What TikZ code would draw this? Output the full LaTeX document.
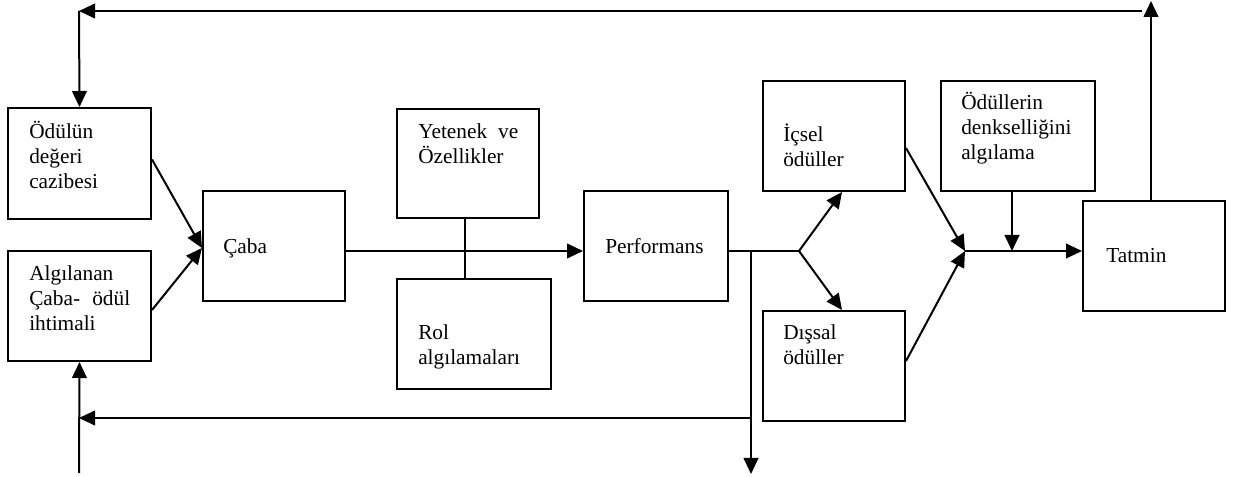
\documentclass[tikz,border=0pt]{standalone}
\usepackage{fontspec}
\setmainfont{Liberation Serif}
\usetikzlibrary{arrows.meta,fit,calc}
\begin{document}
\begin{tikzpicture}[x=0.75pt,y=-0.75pt,
  box/.style={draw=black,line width=1.5pt,inner sep=0pt},
  txt/.style={anchor=base west,align=left,inner sep=0pt,font=\fontsize{16}{18.75}\selectfont},
  conn/.style={line width=1.5pt},
  arr/.style={conn,-{Triangle[length=12pt,width=11pt]}},
  every path/.style={line join=miter}]
\useasboundingbox (0,0) rectangle (1240,477);
% boxes
\node[box,fit={(8,108) (151,219)}] (A) {};
\node[box,fit={(8,251) (151,361)}] (B) {};
\node[box,fit={(203,191) (345,301)}] (C) {};
\node[box,fit={(397,109) (539,218)}] (Y) {};
\node[box,fit={(397,279) (551,389)}] (R) {};
\node[box,fit={(584,191) (728,301)}] (P) {};
\node[box,fit={(763,81) (905,191)}] (I) {};
\node[box,fit={(763,311) (905,421)}] (D) {};
\node[box,fit={(941,81) (1095,191)}] (O) {};
\node[box,fit={(1083,201) (1225,311)}] (T) {};
% texts (anchored at the baseline of the last line)
\node[txt] (tA) at (29,189) {Ödülün\\değeri\\cazibesi};
\node[txt] (tB) at (29,331) {Algılanan\\\hbox to 75.75pt{Çaba-\hfill ödül}\\ihtimali};
\node[txt] (tC) at (223,254) {Çaba};
\node[txt] (tY) at (418,164) {\hbox to 75pt{Yetenek\hfill ve}\\Özellikler};
\node[txt] (tR) at (418,365) {Rol\\algılamaları};
\node[txt] (tP) at (605,254) {Performans};
\node[txt] (tI) at (783,167) {İçsel\\ödüller};
\node[txt] (tD) at (783,365) {Dışsal\\ödüller};
\node[txt] (tO) at (961,160) {Ödüllerin\\denkselliğini\\algılama};
\node[txt] (tT) at (1106,263) {Tatmin};
% junction coordinates
\coordinate (j1) at (751,251);
\coordinate (br) at (799,251);
\coordinate (jn) at (965,251);
\coordinate (jo) at (1012,251);
\coordinate (bl) at (751,418);
\coordinate (bb) at (751,474);
\coordinate (lb) at (79,418);
\coordinate (lbot) at (79,473);
\coordinate (tl) at (79,11);
\coordinate (tr) at (1142,11);
\coordinate (tt) at (1151,1);
% connectors
\draw[arr] ($(A.east)+(0,-4)$) -- ($(C.west)+(0,2)$);
\draw[arr] ($(B.east)+(0,4)$) -- ($(C.west)+(0,2)$);
\draw[arr] (C.east |- j1) -- (P.west |- j1);
\draw[conn] (465,218) -- (465,279);
\draw[conn] (P.east |- j1) -- (br);
\draw[arr] (br) -- ($(I.south)+(8,0)$);
\draw[arr] (br) -- ($(D.north)+(8,0)$);
\draw[arr] (j1) -- (bb);
\draw[arr] (bl) -- (lb);
\draw[arr] (lbot) -- (B.south);
\draw[arr] ($(I.east)+(0,12)$) -- (jn);
\draw[arr] ($(D.east)+(0,-5)$) -- (jn);
\draw[arr] (jn) -- (T.west |- jn);
\draw[arr] (O.south -| jo) -- (jo);
\draw[arr] (T.north -| tt) -- (tt);
\draw[arr] (tr) -- (tl);
\draw[arr] (tl) -- (A.north);
\end{tikzpicture}
\end{document}
